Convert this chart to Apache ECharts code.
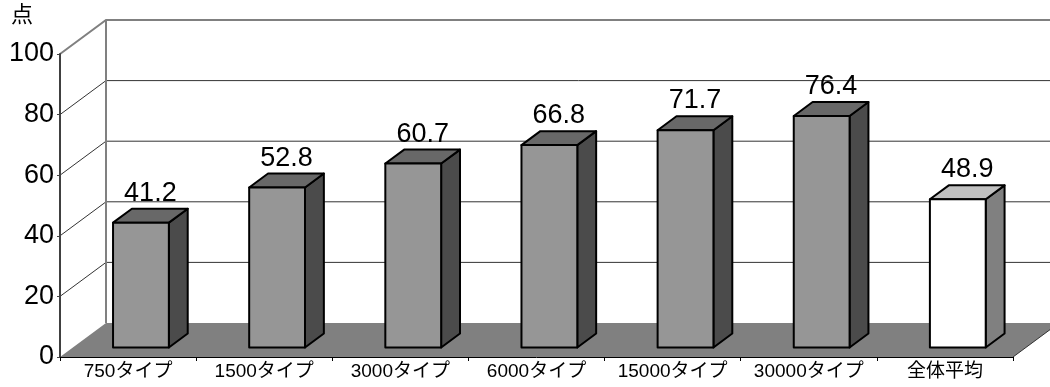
<!DOCTYPE html>
<html>
<head>
<meta charset="utf-8">
<script src="https://cdn.jsdelivr.net/npm/echarts@6/dist/echarts.min.js"></script>
<style>
  html, body { margin: 0; padding: 0; background: #fff; }
  #chart { width: 1050px; height: 387px; }
</style>
</head>
<body>
<div id="chart"></div>
<script>
// Scores per plan type, plus the overall average
const categories = ['750タイプ', '1500タイプ', '3000タイプ', '6000タイプ', '15000タイプ', '30000タイプ', '全体平均'];
const scores = [41.2, 52.8, 60.7, 66.8, 71.7, 76.4, 48.9];
const yTicks = [0, 20, 40, 60, 80, 100];
const unitLabel = '点';

const FONT = '"Liberation Sans", Arial, "Noto Sans CJK JP", sans-serif';
const DEPTH = [46, -34];          // pixel offset from front plane to back wall
const BAR_FRONT = 0.28;           // bar front face position within the depth
const BAR_BACK = 0.69;            // bar back face position within the depth
const BAR_WIDTH = 0.41;           // share of the category band used by a bar

const palettes = {
  normal:  { front: '#969696', top: '#686868', side: '#4b4b4b' },
  average: { front: '#ffffff', top: '#c0c0c0', side: '#808080' }
};

// Floor, side wall gridlines and back wall gridlines of the 3D box
function renderWalls(params, api) {
  const cs = params.coordSys;
  const x0 = cs.x, x1 = cs.x + cs.width;
  const yb = api.coord([0, 0])[1];
  const yt = api.coord([0, yTicks[yTicks.length - 1]])[1];
  const [dx, dy] = DEPTH;
  const children = [];
  children.push({
    type: 'polygon',
    shape: { points: [[x0, yb], [x1, yb], [x1 + dx, yb + dy], [x0 + dx, yb + dy]] },
    style: { fill: '#808080', stroke: null }
  });
  yTicks.forEach(function (v, k) {
    if (v === 0) return;
    const y = api.coord([0, v])[1];
    const isTop = k === yTicks.length - 1;
    children.push({
      type: 'polyline',
      shape: { points: [[x0, y], [x0 + dx, y + dy], [x1 + dx, y + dy]] },
      style: isTop ? { stroke: '#808080', lineWidth: 2, fill: null }
                   : { stroke: '#333333', lineWidth: 1, fill: null }
    });
  });
  children.push({
    type: 'line',
    shape: { x1: x0 + dx, y1: yb + dy, x2: x0 + dx, y2: yt + dy },
    style: { stroke: '#808080', lineWidth: 2 }
  });
  children.push({
    type: 'line',
    shape: { x1: x1, y1: yb, x2: x1 + dx, y2: yb + dy },
    style: { stroke: '#333333', lineWidth: 1 }
  });
  return { type: 'group', children: children };
}

// One extruded bar with its value printed above the top face
function renderBar(params, api) {
  const idx = api.value(0);
  const v = api.value(1);
  const base = api.coord([idx, 0]);
  const top = api.coord([idx, v]);
  const bw = api.size([1, 0])[0] * BAR_WIDTH;
  const [dx, dy] = DEPTH;
  const fx = dx * BAR_FRONT, fy = dy * BAR_FRONT;
  const ox = dx * (BAR_BACK - BAR_FRONT), oy = dy * (BAR_BACK - BAR_FRONT);
  const l = base[0] - bw / 2 + fx, r = base[0] + bw / 2 + fx;
  const b = base[1] + fy, t = top[1] + fy;
  const pal = idx === categories.length - 1 ? palettes.average : palettes.normal;
  const edge = { stroke: '#000', lineWidth: 2, lineJoin: 'round' };
  return {
    type: 'group',
    children: [
      { type: 'polygon', shape: { points: [[r, b], [r + ox, b + oy], [r + ox, t + oy], [r, t]] },
        style: Object.assign({ fill: pal.side }, edge) },
      { type: 'polygon', shape: { points: [[l, t], [r, t], [r + ox, t + oy], [l + ox, t + oy]] },
        style: Object.assign({ fill: pal.top }, edge) },
      { type: 'rect', shape: { x: l, y: t, width: r - l, height: b - t },
        style: Object.assign({ fill: pal.front }, edge) },
      { type: 'text', x: (l + r + ox) / 2, y: t + oy - 2,
        style: { text: v.toFixed(1), fontSize: 27, fontFamily: FONT, fill: '#000',
                 align: 'center', verticalAlign: 'bottom' } }
    ]
  };
}

const chart = echarts.init(document.getElementById('chart'), null, { renderer: 'canvas' });
chart.setOption({
  animation: false,
  backgroundColor: '#ffffff',
  grid: { left: 60, right: 37, top: 54, bottom: 30, containLabel: false },
  xAxis: {
    type: 'category',
    data: categories,
    z: 5,
    axisLine: { lineStyle: { color: '#000', width: 1 } },
    axisTick: { show: true, length: 4, lineStyle: { color: '#000' } },
    axisLabel: { interval: 0, hideOverlap: false, fontSize: 19, fontFamily: FONT,
                 color: '#000', margin: 5 },
    splitLine: { show: false }
  },
  yAxis: {
    type: 'value',
    min: 0, max: 100, interval: 20,
    z: 5,
    axisLine: { show: true, lineStyle: { color: '#404040', width: 2 } },
    axisTick: { show: true, length: 3, lineStyle: { color: '#404040' } },
    axisLabel: { fontSize: 27, fontFamily: FONT, color: '#000', margin: 6 },
    splitLine: { show: false }
  },
  graphic: [{
    type: 'text', left: 11, top: 5,
    style: { text: unitLabel, fontSize: 22, fontFamily: FONT, fill: '#000' }
  }],
  series: [
    { type: 'custom', name: 'walls', z: 1, silent: true, clip: false,
      renderItem: renderWalls, data: [[0, 0]] },
    { type: 'custom', name: 'score', z: 3, clip: false,
      renderItem: renderBar, encode: { x: 0, y: 1 },
      data: scores.map(function (v, i) { return [i, v]; }) }
  ]
});
</script>
</body>
</html>
